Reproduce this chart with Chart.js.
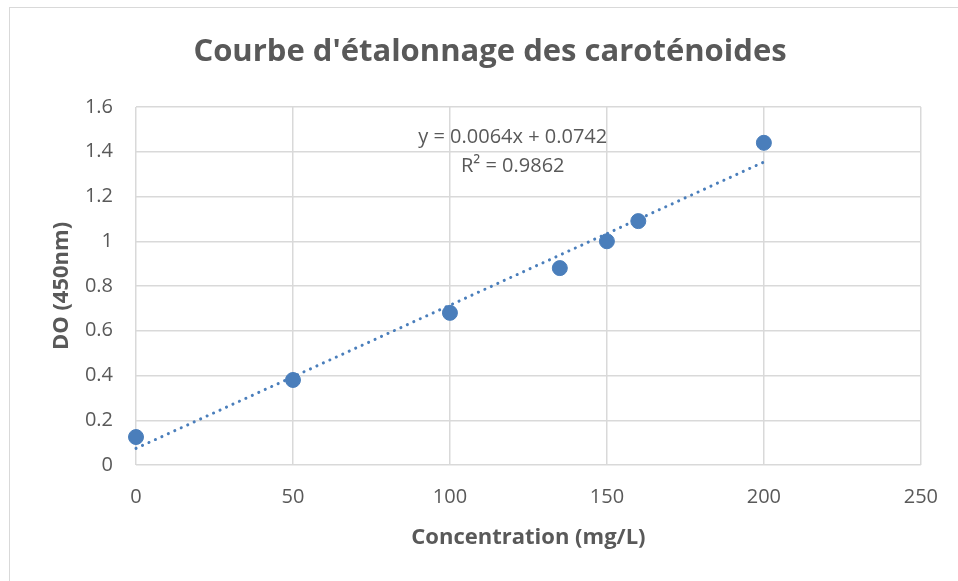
<!DOCTYPE html>
<html>
<head>
<meta charset="utf-8">
<script src="https://cdn.jsdelivr.net/npm/chart.js@4/dist/chart.umd.min.js"></script>
<style>
  html, body { margin: 0; padding: 0; background: #fff; }
  #wrap { position: relative; width: 958px; height: 581px; overflow: hidden; }
  #frame { position: absolute; left: 9px; top: 7px; width: 960px; height: 600px; border: 1px solid #d9d9d9; pointer-events: none; }
  canvas { display: block; }
</style>
</head>
<body>
<div id="wrap">
  <canvas id="c" width="958" height="581"></canvas>
  <div id="frame"></div>
</div>
<script>
// ---- data ----
const concentrations = [0, 50, 100, 135, 150, 160, 200];
const absorbances    = [0.125, 0.38, 0.68, 0.88, 1.0, 1.09, 1.44];
const trendSlope = 0.0064;
const trendIntercept = 0.0742;
const trendR2 = 0.9862;
const xTicks = [0, 50, 100, 150, 200, 250];
const yTicks = [0, 0.2, 0.4, 0.6, 0.8, 1, 1.2, 1.4, 1.6];
const chartTitle = "Courbe d'étalonnage des caroténoides";
const xTitle = "Concentration (mg/L)";
const yTitle = "DO (450nm)";
const eqLines = ["y = " + trendSlope + "x + " + trendIntercept, "R² = " + trendR2];

const points = concentrations.map((x, i) => ({ x: x, y: absorbances[i] }));
const xFirst = concentrations[0], xLast = concentrations[concentrations.length - 1];
const trend = [
  { x: xFirst, y: trendSlope * xFirst + trendIntercept },
  { x: xLast,  y: trendSlope * xLast + trendIntercept }
];

const GRAY = '#595959';
const BLUE = '#4a7ebb';
const FONT = "'Open Sans', 'Liberation Sans', sans-serif";

const textPlugin = {
  id: 'texts',
  afterDatasetsDraw(chart) {
    const ctx = chart.ctx;
    const xs = chart.scales.x, ys = chart.scales.y;
    ctx.save();
    ctx.fillStyle = GRAY;
    ctx.textAlign = 'center';
    ctx.textBaseline = 'middle';
    // chart title
    ctx.font = "bold 31px " + FONT;
    ctx.fillText(chartTitle, 490, 52);
    // trendline label
    const cx = xs.getPixelForValue(120);
    const y0 = ys.getPixelForValue(1.466);
    ctx.font = "20px " + FONT;
    ctx.fillText(eqLines[0], cx, y0);
    ctx.fillText(eqLines[1], cx, y0 + 29);
    ctx.restore();
  }
};

new Chart(document.getElementById('c'), {
  type: 'scatter',
  data: {
    datasets: [
      {
        type: 'line',
        data: trend,
        borderColor: BLUE,
        borderWidth: 3,
        borderDash: [0.1, 7],
        borderCapStyle: 'round',
        pointRadius: 0,
        fill: false,
        clip: false,
        order: 2
      },
      {
        data: points,
        backgroundColor: BLUE,
        borderColor: BLUE,
        pointRadius: 7.5,
        pointHoverRadius: 7.5,
        clip: false,
        order: 1
      }
    ]
  },
  options: {
    responsive: false,
    animation: false,
    events: [],
    layout: { padding: { left: 49, right: 37, top: 107, bottom: 30 } },
    plugins: {
      legend: { display: false },
      tooltip: { enabled: false },
      title: { display: false }
    },
    scales: {
      x: {
        type: 'linear',
        min: xTicks[0],
        max: xTicks[xTicks.length - 1],
        afterBuildTicks(s) { s.ticks = xTicks.map(v => ({ value: v })); },
        ticks: { color: GRAY, font: { family: FONT, size: 20 }, padding: 20 },
        grid: { color: '#d9d9d9', lineWidth: 1.5, drawTicks: false },
        border: { display: false },
        title: {
          display: true, text: xTitle, color: GRAY,
          font: { family: FONT, size: 22, weight: 'bold' },
          padding: { top: 0, bottom: 0 }
        },
        afterFit(s) { s.height = 86; }
      },
      y: {
        type: 'linear',
        min: yTicks[0],
        max: yTicks[yTicks.length - 1],
        afterBuildTicks(s) { s.ticks = yTicks.map(v => ({ value: v })); },
        ticks: {
          color: GRAY, font: { family: FONT, size: 20 }, padding: 23,
          callback: v => String(Math.round(v * 10) / 10)
        },
        grid: { color: '#d9d9d9', lineWidth: 1.5, drawTicks: false },
        border: { display: false },
        title: {
          display: true, text: yTitle, color: GRAY,
          font: { family: FONT, size: 22, weight: 'bold' },
          padding: { top: 0, bottom: 0 }
        },
        afterFit(s) { s.width = 87; }
      }
    }
  },
  plugins: [textPlugin]
});
</script>
</body>
</html>
